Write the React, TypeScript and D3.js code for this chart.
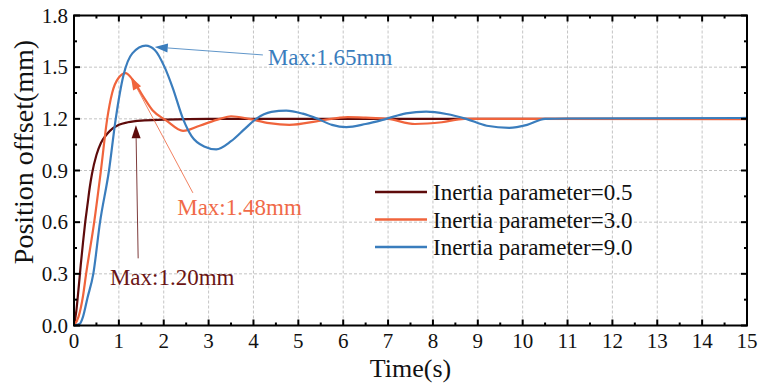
import React from "react";
import * as d3 from "d3";

// ---- data ----
const tA = [0, 0.05, 0.1, 0.15, 0.2, 0.25, 0.3, 0.35, 0.4, 0.5, 0.6, 0.7, 0.8, 1.0, 1.2, 1.5, 2, 3, 15];
const yA = [0, 0.08, 0.21, 0.35, 0.48, 0.6, 0.7, 0.8, 0.88, 0.99, 1.06, 1.1, 1.13, 1.165, 1.18, 1.19, 1.195, 1.2, 1.2];

const tB = [0, 0.1, 0.2, 0.27, 0.45, 0.6, 0.74, 0.85, 1.0, 1.15, 1.3, 1.54, 1.75, 2.06, 2.43, 2.8, 3.25, 3.5, 3.9, 4.35, 4.8, 5.5, 6.1, 6.5, 7.0, 7.6, 8.2, 8.7, 10, 15];
const yB = [0, 0.05, 0.17, 0.3, 0.6, 0.9, 1.2, 1.35, 1.44, 1.465, 1.43, 1.33, 1.25, 1.19, 1.13, 1.16, 1.2, 1.215, 1.2, 1.175, 1.165, 1.19, 1.21, 1.207, 1.2, 1.17, 1.18, 1.2, 1.2, 1.198];

const tC = [0, 0.13, 0.2, 0.3, 0.43, 0.58, 0.78, 0.93, 1.1, 1.3, 1.6, 1.8, 2.02, 2.2, 2.43, 2.62, 2.9, 3.17, 3.5, 3.8, 4.06, 4.4, 4.73, 5.1, 5.43, 5.75, 6.07, 6.5, 6.96, 7.4, 7.85, 8.3, 8.74, 9.2, 9.7, 10.1, 10.5, 11, 15];
const yC = [0, 0.01, 0.05, 0.16, 0.3, 0.6, 0.9, 1.2, 1.45, 1.58, 1.625, 1.6, 1.5, 1.38, 1.2, 1.1, 1.04, 1.023, 1.07, 1.14, 1.2, 1.24, 1.248, 1.23, 1.2, 1.165, 1.152, 1.17, 1.2, 1.232, 1.242, 1.228, 1.2, 1.16, 1.148, 1.165, 1.2, 1.202, 1.205];

const seriesNames = ["Inertia parameter=0.5", "Inertia parameter=3.0", "Inertia parameter=9.0"];
const seriesColors = ["#5e0b0b", "#f0643c", "#3a7dbd"];
const textColors = ["#6b1515", "#f06a48", "#3a7dbd"];

const xTicks = d3.range(0, 16, 1);
const yTicks = [0, 0.3, 0.6, 0.9, 1.2, 1.5, 1.8];

// annotations
const annLabels = ["Max:1.20mm", "Max:1.48mm", "Max:1.65mm"];
const annTip = [[1.38, 1.163], [1.27, 1.443], [1.8, 1.617]];
const annTail = [[1.43, 0.39], [2.65, 0.77], [4.21, 1.571]];
const annText = [[0.8, 0.235], [2.3, 0.642], [4.32, 1.512]];

const W = 760, H = 385;
const L = 74, R = 747, T = 15.5, B = 325.5;
const FONT = "'Liberation Serif', 'Times New Roman', serif";

export default function App() {
  const x = d3.scaleLinear().domain([0, 15]).range([L, R]);
  const y = d3.scaleLinear().domain([0, 1.8]).range([B, T]);
  const line = d3.line<[number, number]>().x(d => x(d[0])).y(d => y(d[1])).curve(d3.curveMonotoneX);
  const series = [
    tA.map((t, i) => [t, yA[i]] as [number, number]),
    tB.map((t, i) => [t, yB[i]] as [number, number]),
    tC.map((t, i) => [t, yC[i]] as [number, number]),
  ];
  const xMinor = d3.range(0.5, 15, 1);
  const yMinor = d3.range(0.15, 1.8, 0.3);

  const arrow = (i: number) => {
    const [x1, y1] = [x(annTail[i][0]), y(annTail[i][1])];
    const [x2, y2] = [x(annTip[i][0]), y(annTip[i][1])];
    const ang = Math.atan2(y2 - y1, x2 - x1);
    const len = 13, hw = 4.5;
    const bx = x2 - len * Math.cos(ang), by = y2 - len * Math.sin(ang);
    const px = -Math.sin(ang) * hw, py = Math.cos(ang) * hw;
    return (
      <g key={"a" + i}>
        <line x1={x1} y1={y1} x2={bx} y2={by} stroke={seriesColors[i]} strokeWidth={1} opacity={0.8} />
        <path d={`M${x2},${y2}L${bx + px},${by + py}L${bx - px},${by - py}Z`} fill={seriesColors[i]} />
        <text x={x(annText[i][0])} y={y(annText[i][1])} fill={textColors[i]} fontSize={23} fontFamily={FONT}>{annLabels[i]}</text>
      </g>
    );
  };

  return (
    <svg width={W} height={H} style={{ position: "absolute", left: 0, top: 0, background: "#fff" }}>
      <rect width={W} height={H} fill="#fff" />
      {xTicks.slice(1, -1).map(t => (
        <line key={"gx" + t} x1={x(t)} x2={x(t)} y1={T} y2={B} stroke="#b5b5b5" strokeWidth={0.8} strokeDasharray="3,2" />
      ))}
      {yTicks.slice(1, -1).map(v => (
        <line key={"gy" + v} x1={L} x2={R} y1={y(v)} y2={y(v)} stroke="#b5b5b5" strokeWidth={0.8} strokeDasharray="3,2" />
      ))}
      {series.map((s, i) => (
        <path key={"s" + i} d={line(s) || ""} fill="none" stroke={seriesColors[i]} strokeWidth={2.2} />
      ))}
      {[0, 1, 2].map(i => arrow(i))}
      {seriesNames.map((n, i) => (
        <g key={"l" + i}>
          <line x1={375} x2={427} y1={192 + i * 27.5} y2={192 + i * 27.5} stroke={seriesColors[i]} strokeWidth={2.5} />
          <text x={433} y={192 + i * 27.5 + 8} fontSize={23} fontFamily={FONT} fill="#111">{n}</text>
        </g>
      ))}
      <rect x={L} y={T} width={R - L} height={B - T} fill="none" stroke="#000" strokeWidth={2} />
      {xTicks.map(t => (
        <g key={"xt" + t}>
          <line x1={x(t)} x2={x(t)} y1={B} y2={B - 6} stroke="#000" strokeWidth={2} />
          <line x1={x(t)} x2={x(t)} y1={T} y2={T + 6} stroke="#000" strokeWidth={2} />
          <text x={x(t)} y={348} textAnchor="middle" fontSize={21} fontFamily={FONT} fill="#111">{t}</text>
        </g>
      ))}
      {xMinor.map(t => (
        <g key={"xm" + t}>
          <line x1={x(t)} x2={x(t)} y1={B} y2={B - 3} stroke="#000" strokeWidth={2} />
          <line x1={x(t)} x2={x(t)} y1={T} y2={T + 3} stroke="#000" strokeWidth={2} />
        </g>
      ))}
      {yTicks.map(v => (
        <g key={"yt" + v}>
          <line x1={L} x2={L + 6} y1={y(v)} y2={y(v)} stroke="#000" strokeWidth={2} />
          <line x1={R} x2={R - 6} y1={y(v)} y2={y(v)} stroke="#000" strokeWidth={2} />
          <text x={68} y={y(v) + 7} textAnchor="end" fontSize={21} fontFamily={FONT} fill="#111">{v.toFixed(1)}</text>
        </g>
      ))}
      {yMinor.map(v => (
        <g key={"ym" + v}>
          <line x1={L} x2={L + 3} y1={y(v)} y2={y(v)} stroke="#000" strokeWidth={2} />
          <line x1={R} x2={R - 3} y1={y(v)} y2={y(v)} stroke="#000" strokeWidth={2} />
        </g>
      ))}
      <text x={(L + R) / 2} y={377} textAnchor="middle" fontSize={26} fontFamily={FONT} fill="#111">Time(s)</text>
      <text transform="translate(33,152) rotate(-90)" textAnchor="middle" fontSize={28} fontFamily={FONT} fill="#111">Position offset(mm)</text>
    </svg>
  );
}
